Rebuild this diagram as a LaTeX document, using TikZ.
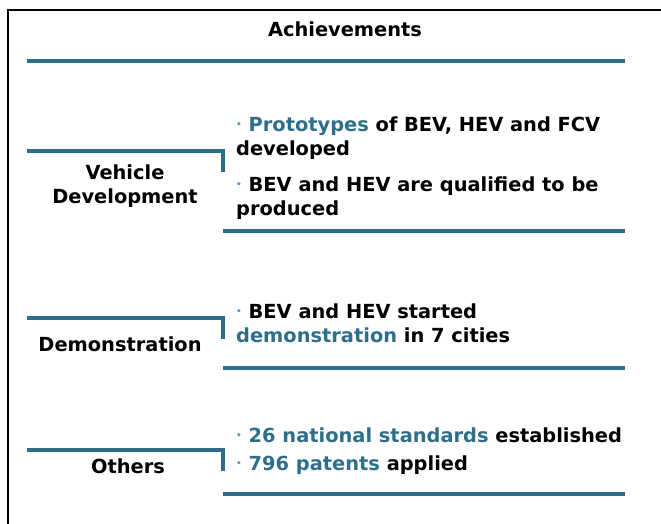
\documentclass[tikz,border=0pt]{standalone}
\usepackage{fontspec}
\setmainfont{DejaVu Sans}
\usetikzlibrary{positioning}

\definecolor{barteal}{HTML}{2F6E8B}
\definecolor{dotblue}{HTML}{5A9BD3}
\newcommand{\bul}{{\color{dotblue}\raisebox{0.3ex}{\fontsize{9}{9}\selectfont\textbullet}}\ }
\newcommand{\hl}[1]{\textcolor{barteal}{#1}}

\begin{document}
\begin{tikzpicture}[%
    x=1pt, y=-1pt,
    bar/.style={line width=4pt, draw=barteal},
    head/.style={font=\bfseries\fontsize{19.4}{23.5}\selectfont, align=center, inner sep=0pt, anchor=base},
    item/.style={font=\bfseries\fontsize{19.4}{24}\selectfont, align=left, inner sep=0pt, anchor=base west}
    ]
    \useasboundingbox (0,0) rectangle (661,524);

    % frame
    \draw[line width=2.2pt] (8,524) -- (8,10) -- (661,10);

    % title
    \node[head] (title) at (345,37) {Achievements};
    \coordinate (tl) at (27,61);
    \coordinate (tr) at (625,61);
    \draw[bar] (tl) -- (tr);

    % vehicle development (base = last line)
    \node[head] (veh) at (125,203) {Vehicle\\Development};
    \node[item] (vehtxt) at (236,215) {\bul\hl{Prototypes} of BEV, HEV and FCV\\developed\\[12pt]\bul BEV and HEV are qualified to be\\produced};
    \coordinate (v1) at (27,151);
    \coordinate (v2) at (223,151);
    \coordinate (v3) at (223,172);
    \coordinate (v4) at (223,231);
    \coordinate (v5) at (625,231);
    \draw[bar] (v1) -- (v2) -- (v3);
    \draw[bar] (v4) -- (v5);

    % demonstration
    \node[head] (demo) at (120,351) {Demonstration};
    \node[item] (demotxt) at (236,342) {\bul BEV and HEV started\\\hl{demonstration} in 7 cities};
    \coordinate (d1) at (27,318);
    \coordinate (d2) at (223,318);
    \coordinate (d3) at (223,339);
    \coordinate (d4) at (223,368);
    \coordinate (d5) at (625,368);
    \draw[bar] (d1) -- (d2) -- (d3);
    \draw[bar] (d4) -- (d5);

    % others
    \node[head] (oth) at (128,473) {Others};
    \node[item] (othtxt) at (236,470) {\bul\hl{26 national standards} established\\[4pt]\bul\hl{796 patents} applied};
    \coordinate (o1) at (27,450);
    \coordinate (o2) at (223,450);
    \coordinate (o3) at (223,471);
    \coordinate (o4) at (223,494);
    \coordinate (o5) at (625,494);
    \draw[bar] (o1) -- (o2) -- (o3);
    \draw[bar] (o4) -- (o5);
\end{tikzpicture}
\end{document}
